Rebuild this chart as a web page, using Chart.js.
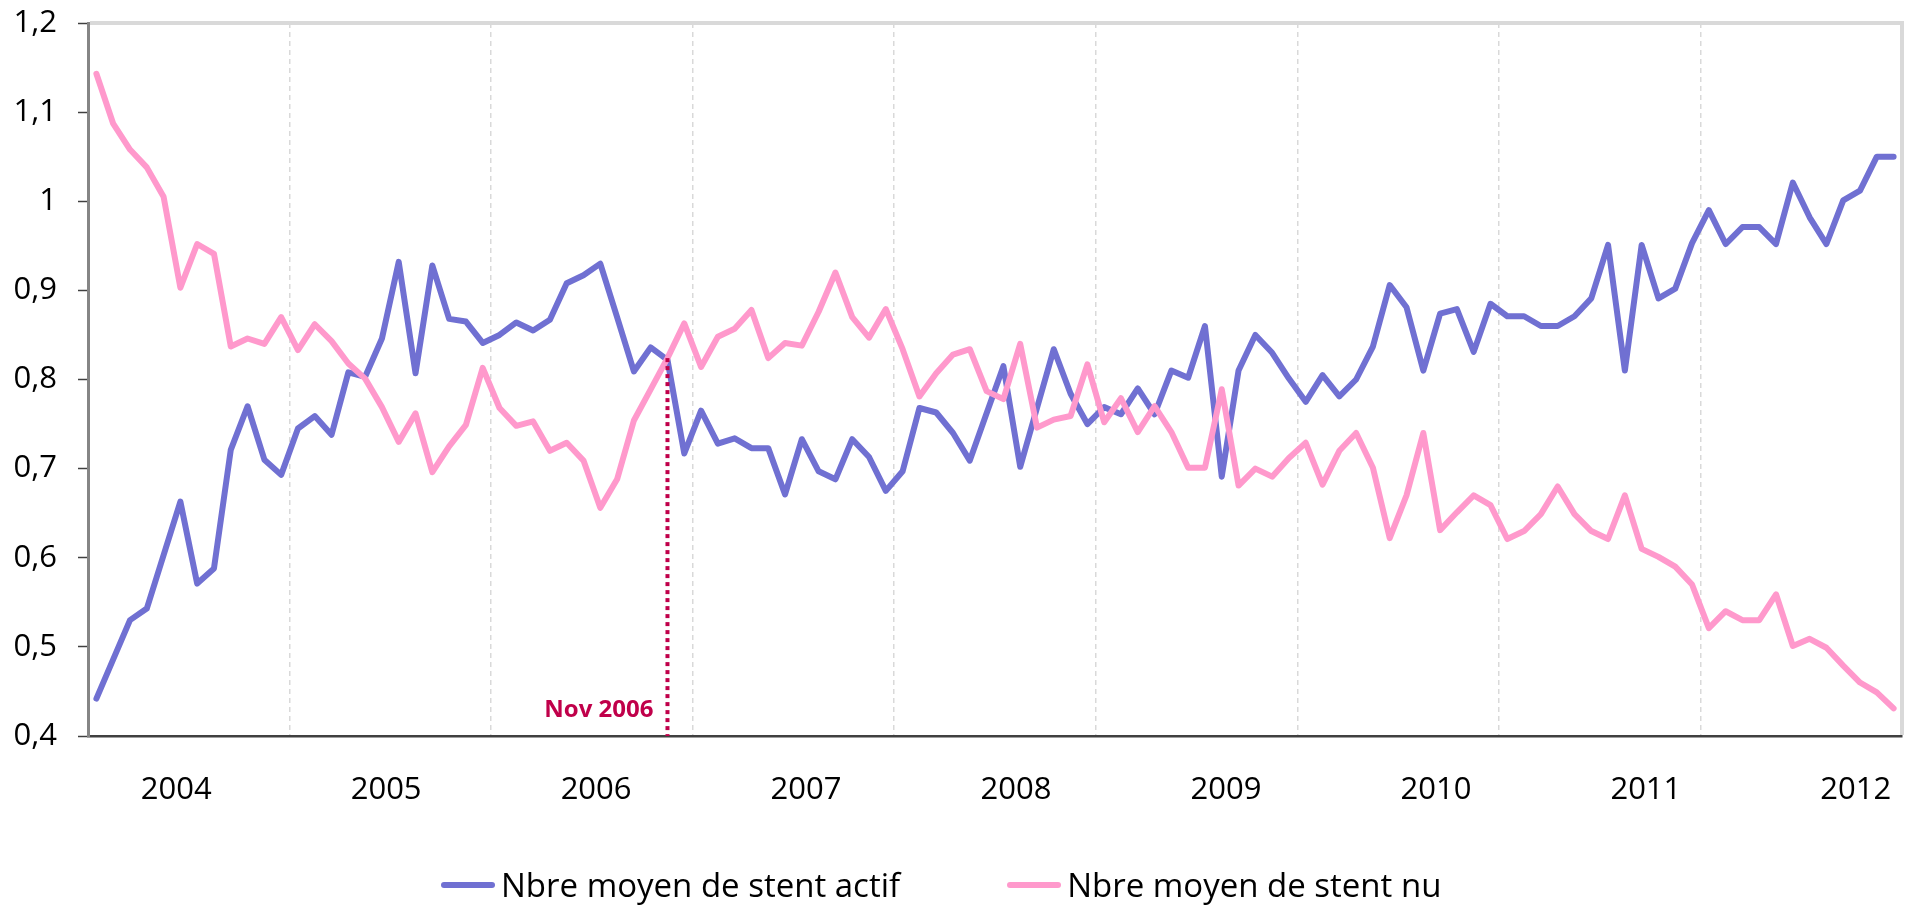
<!DOCTYPE html>
<html lang="fr">
<head>
<meta charset="utf-8">
<title>Nbre moyen de stents actifs / nus</title>
<script src="https://cdn.jsdelivr.net/npm/chart.js@4.4.1/dist/chart.umd.min.js"></script>
<style>
    :root {
        --chart-font: 'Open Sans', 'DejaVu Sans', sans-serif;
    }
    html, body { margin: 0; padding: 0; background: #fff; }
    .chart-wrap { position: relative; width: 1912px; height: 905px; }
    .chart-legend {
        position: absolute;
        left: 441px;
        top: 864px;
        font-family: var(--chart-font);
        font-size: 33px;
        line-height: 42px;
        color: #000;
    }
    .chart-legend ul { list-style: none; margin: 0; padding: 0; display: flex; }
    .chart-legend li { display: flex; align-items: center; margin-right: 107px; white-space: nowrap; }
    .legend-line { display: inline-block; width: 54px; height: 6px; border-radius: 3px; margin-right: 6px; }
</style>
</head>
<body>
<div class="chart-wrap">
    <canvas id="stents"></canvas>
    <div class="chart-legend" data-chart-id="stents"></div>
</div>
<script>
// one value per month, Jan 2004 .. Dec 2012
const years = ['2004', '2005', '2006', '2007', '2008', '2009', '2010', '2011', '2012'];
const months = ['janv', 'févr', 'mars', 'avr', 'mai', 'juin', 'juil', 'août', 'sept', 'oct', 'nov', 'déc'];

const stentActif = [
    0.442, 0.486, 0.530, 0.543, 0.603, 0.663, 0.571, 0.588, 0.721, 0.770, 0.710, 0.693,
    0.745, 0.759, 0.738, 0.808, 0.803, 0.846, 0.932, 0.807, 0.928, 0.868, 0.865, 0.841,
    0.850, 0.864, 0.855, 0.867, 0.908, 0.917, 0.930, 0.870, 0.809, 0.836, 0.822, 0.717,
    0.765, 0.728, 0.734, 0.723, 0.723, 0.671, 0.733, 0.697, 0.688, 0.733, 0.713, 0.675,
    0.697, 0.768, 0.763, 0.740, 0.709, 0.762, 0.815, 0.702, 0.768, 0.834, 0.784, 0.750,
    0.769, 0.761, 0.790, 0.761, 0.810, 0.802, 0.860, 0.691, 0.810, 0.850, 0.830, 0.801,
    0.775, 0.805, 0.781, 0.800, 0.837, 0.906, 0.881, 0.810, 0.874, 0.879, 0.831, 0.885,
    0.871, 0.871, 0.860, 0.860, 0.871, 0.891, 0.951, 0.810, 0.951, 0.891, 0.902, 0.953,
    0.990, 0.952, 0.971, 0.971, 0.952, 1.021, 0.982, 0.952, 1.001, 1.012, 1.050, 1.050
];

const stentNu = [
    1.143, 1.087, 1.058, 1.038, 1.005, 0.903, 0.952, 0.941, 0.837, 0.846, 0.840, 0.870,
    0.833, 0.862, 0.843, 0.818, 0.801, 0.769, 0.730, 0.762, 0.696, 0.725, 0.749, 0.813,
    0.768, 0.748, 0.753, 0.720, 0.729, 0.709, 0.656, 0.688, 0.754, 0.789, 0.824, 0.863,
    0.814, 0.848, 0.857, 0.878, 0.824, 0.841, 0.838, 0.876, 0.920, 0.870, 0.847, 0.879,
    0.834, 0.781, 0.807, 0.828, 0.834, 0.787, 0.778, 0.840, 0.746, 0.755, 0.759, 0.817,
    0.752, 0.779, 0.741, 0.770, 0.741, 0.701, 0.701, 0.789, 0.681, 0.700, 0.691, 0.712,
    0.729, 0.682, 0.720, 0.740, 0.701, 0.622, 0.670, 0.740, 0.631, 0.651, 0.670, 0.659,
    0.621, 0.630, 0.649, 0.680, 0.649, 0.630, 0.621, 0.670, 0.610, 0.601, 0.590, 0.570,
    0.521, 0.540, 0.530, 0.530, 0.559, 0.501, 0.509, 0.499, 0.479, 0.460, 0.449, 0.431
];

const seriesLabels = ['Nbre moyen de stent actif', 'Nbre moyen de stent nu'];
const yTickLabels = ['0,4', '0,5', '0,6', '0,7', '0,8', '0,9', '1', '1,1', '1,2'];

const markerMonth = 'nov 2006';
const markerText = 'Nov 2006';

(function () {
    const fontFamily = "'Open Sans', 'DejaVu Sans', sans-serif";
    const colors = ['#7070D2', '#FF99CC'];
    const markerColor = '#C0004A';

    // Excel puts the year labels every 12.5 months, starting a bit before mid-year
    const yearLabelStart = 4.75;
    const yearLabelStep = 12.5;

    const categories = [];
    years.forEach(y => months.forEach(m => categories.push(m + ' ' + y)));

    const framePlugin = {
        id: 'frame',
        beforeDatasetsDraw(chart) {
            const { ctx, chartArea: a } = chart;
            ctx.save();
            ctx.strokeStyle = '#D9D9D9';
            ctx.lineWidth = 4;
            ctx.beginPath();
            ctx.moveTo(a.left + 2, a.top);
            ctx.lineTo(a.right, a.top);
            ctx.lineTo(a.right, a.bottom - 1);
            ctx.stroke();
            ctx.restore();
        }
    };

    const markerPlugin = {
        id: 'marker',
        afterDatasetsDraw(chart) {
            const { ctx, chartArea: a, scales } = chart;
            const idx = categories.indexOf(markerMonth);
            const x = scales.x.getPixelForValue(idx);
            const yTop = scales.y.getPixelForValue(stentNu[idx]);

            ctx.save();
            ctx.strokeStyle = markerColor;
            ctx.lineWidth = 4;
            ctx.setLineDash([4, 4]);
            ctx.beginPath();
            ctx.moveTo(x, yTop);
            ctx.lineTo(x, a.bottom);
            ctx.stroke();
            ctx.setLineDash([]);

            ctx.fillStyle = markerColor;
            ctx.font = 'bold 24px ' + fontFamily;
            ctx.textAlign = 'right';
            ctx.textBaseline = 'middle';
            ctx.fillText(markerText, x - 14, a.bottom - 26);
            ctx.restore();
        }
    };

    function buildDatasets() {
        const common = {
            borderWidth: 6,
            pointRadius: 0,
            pointHoverRadius: 0,
            tension: 0,
            fill: false,
            borderJoinStyle: 'round',
            borderCapStyle: 'round',
            xAxisID: 'x',
            yAxisID: 'y'
        };
        // pink is drawn on top of the blue line, as in the original
        return [
            { label: seriesLabels[0], data: stentActif, borderColor: colors[0], backgroundColor: colors[0], order: 1, ...common },
            { label: seriesLabels[1], data: stentNu, borderColor: colors[1], backgroundColor: colors[1], order: 0, ...common }
        ];
    }

    function buildChartOptions() {
        const fonts = { family: fontFamily, size: 31 };

        return {
            responsive: true,
            maintainAspectRatio: false,
            animation: false,
            devicePixelRatio: 1,
            layout: { padding: { top: 23, right: 10, bottom: 0, left: 0 } },
            scales: {
                x: {
                    type: 'category',
                    offset: true,
                    grid: {
                        offset: true,
                        drawTicks: false,
                        lineWidth: 1.5,
                        color: (context) => {
                            return context.index > 0 && context.index % 12 === 0 ? '#D9D9D9' : 'rgba(0,0,0,0)';
                        }
                    },
                    border: { display: true, color: '#404040', width: 2.5, dash: [5, 4] },
                    ticks: { display: false },
                    afterFit: (axis) => {
                        axis.height = 0;
                        axis.paddingLeft = 0;
                        axis.paddingRight = 0;
                    }
                },
                years: {
                    type: 'linear',
                    position: 'bottom',
                    bounds: 'data',
                    min: -0.5,
                    max: categories.length - 0.5,
                    grid: { display: false },
                    border: { display: false },
                    afterBuildTicks: (axis) => {
                        axis.ticks = years.map((y, i) => ({ value: yearLabelStart + i * yearLabelStep }));
                    },
                    ticks: {
                        autoSkip: false,
                        maxRotation: 0,
                        padding: 28,
                        color: '#000',
                        font: fonts,
                        callback: (value, index) => years[index]
                    },
                    afterFit: (axis) => {
                        // ticks.padding is only meant as vertical gap here
                        axis.height = 169;
                        axis.paddingLeft = 0;
                        axis.paddingRight = 0;
                    }
                },
                y: {
                    min: 0.4,
                    max: 1.2,
                    grid: {
                        drawOnChartArea: false,
                        drawTicks: true,
                        tickLength: 10,
                        tickWidth: 1.5,
                        tickColor: '#404040'
                    },
                    border: { display: true, color: '#858585', width: 3 },
                    ticks: {
                        stepSize: 0.1,
                        padding: 21,
                        color: '#000',
                        font: fonts,
                        callback: (value) => yTickLabels[Math.round((value - 0.4) * 10)]
                    },
                    afterFit: (axis) => {
                        axis.width = 88;
                        axis.paddingTop = 0;
                        axis.paddingBottom = 0;
                    }
                }
            },
            plugins: {
                legend: { display: false },
                tooltip: { enabled: false },
                title: { display: false }
            }
        };
    }

    function buildLegend(chart, container) {
        const ul = document.createElement('ul');

        chart.data.datasets.forEach(ds => {
            const li = document.createElement('li');
            const line = document.createElement('span');
            line.classList.add('legend-line');
            line.style.backgroundColor = ds.borderColor;

            const label = document.createElement('span');
            label.textContent = ds.label;

            li.appendChild(line);
            li.appendChild(label);
            ul.appendChild(li);
        });

        container.appendChild(ul);
    }

    function initChart() {
        const canvas = document.getElementById('stents');

        Chart.defaults.font.family = fontFamily;
        Chart.defaults.color = '#000';

        const chart = new Chart(canvas, {
            type: 'line',
            data: {
                labels: categories,
                datasets: buildDatasets()
            },
            options: buildChartOptions(),
            plugins: [framePlugin, markerPlugin]
        });

        const legendContainer = document.querySelector('.chart-legend[data-chart-id="stents"]');
        if (legendContainer) {
            buildLegend(chart, legendContainer);
        }
    }

    document.addEventListener('DOMContentLoaded', initChart);
})();
</script>
</body>
</html>
